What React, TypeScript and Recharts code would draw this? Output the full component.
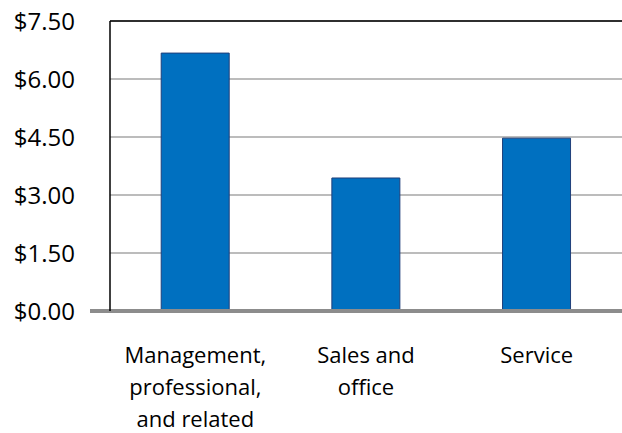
import React from 'react';
import { BarChart, Bar, XAxis, YAxis, CartesianGrid, ReferenceLine } from 'recharts';

const categories = ['Management,\nprofessional,\nand related', 'Sales and\noffice', 'Service'];
const values = [6.67, 3.44, 4.47];
const yTicks = [0, 1.5, 3, 4.5, 6, 7.5];

const data = categories.map((name, i) => ({ name, value: values[i] }));

const FONT = '"Open Sans", sans-serif';

function XTick(props: any) {
    const { x, y, payload } = props;
    const lines = String(payload.value).split('\n');
    return (
        <text x={x} y={y} textAnchor="middle" fontFamily={FONT} fontSize={22} fill="#000">
            {lines.map((l, i) => (
                <tspan key={i} x={x} dy={i === 0 ? 44 : 32}>{l}</tspan>
            ))}
        </text>
    );
}

function YTick(props: any) {
    const { y, payload } = props;
    return (
        <text x={75} y={y} dy={9} textAnchor="end" fontFamily={FONT} fontSize={24} fill="#000">
            {'$' + Number(payload.value).toFixed(2)}
        </text>
    );
}

function BaseLine(props: any) {
    const { x1, x2, y1 } = props;
    return <line x1={x1 - 20} x2={x2} y1={y1} y2={y1} stroke="#8c8c8c" strokeWidth={4} />;
}

export default function App() {
    return (
        <div style={{ position: 'absolute', left: 0, top: 0, background: '#fff' }}>
            <BarChart width={622} height={433} data={data} margin={{ top: 21, right: 0, bottom: 0, left: 0 }} barCategoryGap="30%">
                <CartesianGrid vertical={false} stroke="#a6a6a6" strokeWidth={1.5} />
                <XAxis dataKey="name" height={122} axisLine={false} tickLine={false} tick={<XTick />} interval={0} />
                <YAxis width={110} domain={[0, 7.5]} ticks={yTicks} axisLine={{ stroke: '#000', strokeWidth: 1.5 }} tickLine={false} tick={<YTick />} />
                <ReferenceLine y={7.5} stroke="#000" strokeWidth={1.5} />
                <Bar dataKey="value" fill="#0070c0" stroke="#1f3f7a" strokeWidth={1} isAnimationActive={false} />
                <ReferenceLine y={0} shape={<BaseLine />} />
            </BarChart>
        </div>
    );
}
